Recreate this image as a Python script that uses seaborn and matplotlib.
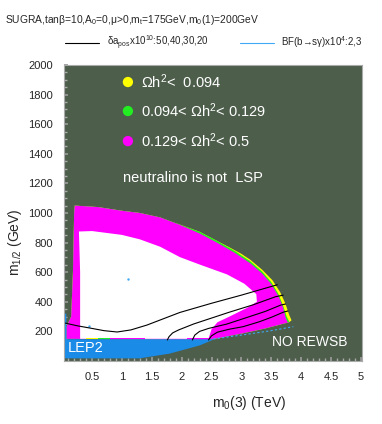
import matplotlib
matplotlib.use("Agg")
import matplotlib.pyplot as plt
from matplotlib.lines import Line2D
import seaborn as sns

# region boundaries (m0(3) in TeV, m1/2 in GeV)
# outer edge of the magenta band (left side + top arc)
mag_x = [0.07, 0.07, 0.15, 0.18, 0.20, 0.21, 0.6, 1.0, 1.3, 1.64, 1.97, 2.3, 2.6, 2.9, 3.15, 3.35, 3.5, 3.62, 3.7, 3.74, 3.77]
mag_y = [150, 230, 300, 600, 1000, 1050, 1040, 1015, 1000, 970, 920, 862, 798, 728, 660, 590, 520, 440, 360, 295, 265]
# outer edge of the green band
grn_x = [1.9, 2.3, 2.6, 2.9, 3.15, 3.35, 3.5, 3.62, 3.7, 3.76, 3.80]
grn_y = [932, 873, 810, 741, 674, 604, 534, 454, 373, 300, 268]
# outer edge of the yellow band
yel_x = [2.8, 3.0, 3.15, 3.35, 3.52, 3.65, 3.74, 3.80, 3.84]
yel_y = [768, 724, 684, 616, 546, 465, 385, 312, 275]
# lower edge (no REWSB side), right to left
edge_x = [3.80, 3.4, 3.0, 2.45]
edge_y = [262, 220, 185, 142]
# white region (Omega h^2 > 0.5)
wht_x = [0.30, 0.30, 0.28, 0.5, 1.0, 1.3, 1.64, 1.97, 2.3, 2.76, 3.05, 3.25, 3.26, 3.1, 2.8, 2.6, 2.5, 2.45]
wht_y = [150, 600, 875, 878, 852, 822, 772, 702, 652, 585, 522, 452, 400, 360, 300, 262, 215, 150]
# LEP2 excluded region
lep_x = [0.04, 0.04, 0.07, 0.07, 2.55, 2.3, 1.8, 1.3]
lep_y = [18, 320, 320, 147, 147, 105, 50, 18]
# small strips on top of the LEP2 region
strip_x0 = [0.40, 0.60, 0.80, 2.09]
strip_x1 = [0.60, 0.80, 1.39, 2.48]
strip_c = ["#ffff00", "#22ee22", "#ff00ff", "#ff00ff"]

# delta a_mu contours: 20, 30, 40, 50
amu_lines = [
    ([0.04, 0.25, 0.46, 0.7, 0.92, 1.15, 1.42, 1.64, 1.97, 2.5, 3.0, 3.3, 3.6],
     [257, 238, 223, 205, 196, 210, 243, 277, 328, 390, 445, 480, 515]),
    ([1.76, 1.79, 1.85, 1.95, 2.2, 2.5, 2.8, 3.2, 3.57, 3.7],
     [142, 165, 190, 210, 250, 290, 330, 380, 434, 445]),
    ([2.18, 2.22, 2.3, 2.45, 2.76, 3.1, 3.4, 3.66, 3.74],
     [142, 175, 200, 220, 250, 295, 335, 378, 385]),
    ([2.45, 2.5, 2.6, 2.8, 3.03, 3.3, 3.5, 3.71, 3.78],
     [142, 170, 195, 215, 232, 265, 295, 331, 338]),
]
bsg_x = [2.53, 3.0, 3.5, 3.87]
bsg_y = [149, 175, 205, 232]
dots_x = [1.1, 0.45]
dots_y = [557, 235]

key_y = [1885, 1689, 1486]
key_colors = ["#ffff00", "#22ee22", "#ff00ff"]
key_labels = [r"$\Omega$h$^2$<  0.094", r"0.094< $\Omega$h$^2$< 0.129", r"0.129< $\Omega$h$^2$< 0.5"]

sns.set_theme(style="white")
plt.rcParams["font.family"] = ["Liberation Sans", "DejaVu Sans"]
plt.rcParams["mathtext.fontset"] = "custom"
plt.rcParams["mathtext.rm"] = "Liberation Sans"
plt.rcParams["mathtext.it"] = "Liberation Sans"

fig = plt.figure(figsize=(3.82, 4.24), dpi=100)
ax = fig.add_axes([64 / 382, 1 - 361 / 424, 298 / 382, 296 / 424])
ax.set_facecolor("#4d5e4b")

yel_poly = list(zip(mag_x, mag_y))[:11] + list(zip(grn_x, grn_y))[:3] + list(zip(yel_x, yel_y)) + list(zip(edge_x, edge_y))
grn_poly = list(zip(mag_x, mag_y))[:10] + list(zip(grn_x, grn_y)) + list(zip(edge_x, edge_y))
mag_poly = list(zip(mag_x, mag_y)) + list(zip(edge_x, edge_y))
for poly, col in [(yel_poly, "#ffff00"), (grn_poly, "#22ee22"), (mag_poly, "#ff00ff")]:
    px, py = zip(*poly)
    ax.fill(px, py, color=col, lw=0)
ax.fill(wht_x, wht_y, color="white", lw=0)
ax.fill(lep_x, lep_y, color="#1a8be6", lw=0)
for x0, x1, c in zip(strip_x0, strip_x1, strip_c):
    ax.fill_between([x0, x1], 147, 158, color=c, lw=0)

for lx, ly in amu_lines:
    sns.lineplot(x=lx, y=ly, sort=False, estimator=None, color="black", lw=0.8, ax=ax)
sns.lineplot(x=bsg_x, y=bsg_y, sort=False, estimator=None, color="#3fa9f5", lw=0.8, ls=(0, (2, 2)), ax=ax)
ax.scatter(dots_x, dots_y, color="#3fa9f5", s=3, lw=0)

sns.scatterplot(x=[1.1] * 3, y=key_y, hue=key_labels, palette=key_colors, s=55, edgecolor="none", legend=False, ax=ax)
for yy, lab in zip(key_y, key_labels):
    ax.text(1.32, yy, lab, color="white", fontsize=10.5, va="center")
ax.text(1.02, 1236, "neutralino is not  LSP", color="white", fontsize=10.5, va="center")
ax.text(0.1, 88, "LEP2", color="white", fontsize=10.5, va="center")
ax.text(3.52, 128, "NO REWSB", color="white", fontsize=10, va="center")

ax.set_xlim(0.03, 5.02)
ax.set_ylim(0, 2000)
ax.set_xticks([0.5, 1, 1.5, 2, 2.5, 3, 3.5, 4, 4.5, 5])
ax.set_xticklabels(["0.5", "1", "1.5", "2", "2.5", "3", "3.5", "4", "4.5", "5"])
ax.set_yticks(range(200, 2001, 200))
ax.set_xticks([i / 10 for i in range(1, 51)], minor=True)
ax.set_yticks(range(50, 2001, 50), minor=True)
ax.tick_params(axis="both", which="major", labelsize=8, direction="in", length=3, color="#999999", pad=8)
ax.tick_params(axis="both", which="minor", direction="in", length=2, color="#aaaaaa")
ax.tick_params(bottom=True, left=True, which="both")
for sp in ax.spines.values():
    sp.set_color("#aaaaaa")
    sp.set_linewidth(0.8)

ax.set_xlabel(r"m$_0$(3) (TeV)", fontsize=10)
ax.xaxis.set_label_coords(0.62, -0.11)
ax.set_ylabel(r"m$_{1/2}$ (GeV)", fontsize=10)
ax.yaxis.set_label_coords(-0.135, 0.40)

fig.text(5 / 382, 1 - 20 / 424, r"SUGRA,tan$\beta$=10,A$_0$=0,$\mu$>0,m$_t$=175GeV,m$_0$(1)=200GeV",
         fontsize=7.4, va="center", ha="left")
handles = [Line2D([], [], color="black", lw=0.8), Line2D([], [], color="#3fa9f5", lw=0.8)]
labels = [r"$\delta$a$_{pos}$x10$^{10}$:50,40,30,20", "BF(b\u2192s\u03b3)x10$^4$:2,3"]
fig.legend(handles, labels, loc="center", bbox_to_anchor=(0.56, 1 - 43 / 424), ncol=2, frameon=False,
           fontsize=7, handlelength=3.5, columnspacing=3.2)

fig.savefig("out.png", dpi=100)
